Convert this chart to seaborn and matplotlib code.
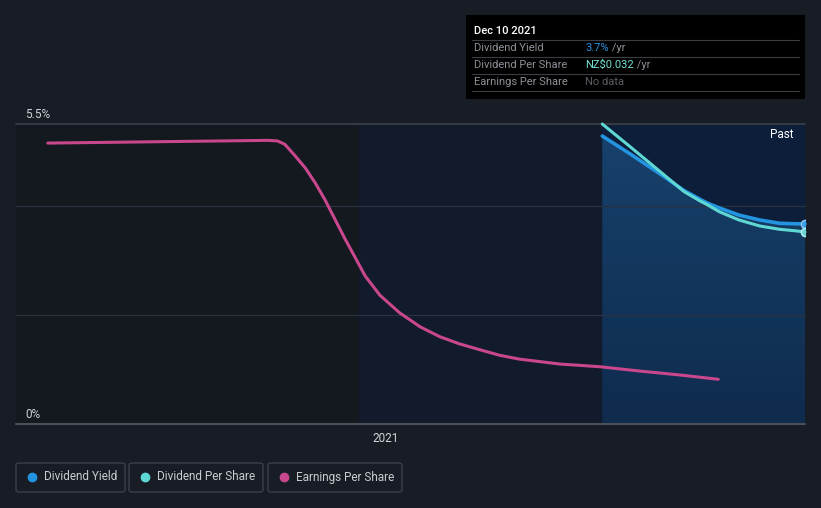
import numpy as np
import pandas as pd
import matplotlib
matplotlib.use("Agg")
import matplotlib.pyplot as plt
import matplotlib.dates as mdates
from matplotlib.patches import FancyBboxPatch, Rectangle
import seaborn as sns

# ---------------- data ----------------
eps_dates = ["2020-03-30", "2020-09-26", "2020-10-04", "2020-10-10", "2020-10-18", "2020-10-27",
             "2020-11-04", "2020-11-12", "2020-11-20", "2020-11-28", "2020-12-07", "2020-12-15",
             "2020-12-27", "2021-01-12", "2021-01-29", "2021-02-14", "2021-03-02", "2021-03-19",
             "2021-04-04", "2021-04-20", "2021-05-23", "2021-06-25", "2021-07-28", "2021-08-29",
             "2021-09-30"]
eps_values = [5.15, 5.20, 5.19, 5.13, 4.93, 4.69, 4.42, 4.11, 3.76, 3.41, 3.04, 2.71, 2.36,
              2.04, 1.78, 1.60, 1.47, 1.36, 1.26, 1.19, 1.10, 1.05, 0.97, 0.90, 0.82]

div_dates = ["2021-06-27", "2021-07-20", "2021-08-17", "2021-09-02", "2021-09-15", "2021-09-21",
             "2021-10-01", "2021-10-17", "2021-11-03", "2021-11-19", "2021-12-03", "2021-12-10"]
yield_values = [5.28, 4.95, 4.53, 4.28, 4.12, 4.05, 3.96, 3.83, 3.74, 3.68, 3.67, 3.67]
dps_values = [5.50, 5.08, 4.56, 4.26, 4.09, 4.02, 3.89, 3.74, 3.63, 3.57, 3.54, 3.52]

y_ticks = [0, 5.5]
y_tick_labels = ["0%", "5.5%"]
grid_values = [2, 4]
x_tick_label = "2021"
series_names = ["Dividend Yield", "Dividend Per Share", "Earnings Per Share"]
series_colors = ["#2394df", "#5fd8d3", "#c9478d"]

x_start, x_end = pd.Timestamp("2020-03-04"), pd.Timestamp("2021-12-10")
past_start = pd.Timestamp("2020-12-10")

# ---------------- figure ----------------
sns.set_style("dark")
plt.rcParams["font.family"] = ["Roboto", "DejaVu Sans"]

W, H = 821, 508
fig = plt.figure(figsize=(W / 100, H / 100), dpi=100, facecolor="#181c25")
ax = fig.add_axes([16 / W, (H - 424) / H, (805 - 16) / W, 300 / H])
ax.set_facecolor("#14181f")

eps = pd.DataFrame({"date": pd.to_datetime(eps_dates), "value": eps_values})
div = pd.DataFrame({"date": pd.to_datetime(div_dates), "yield": yield_values, "dps": dps_values})

# regions
ax.axvspan(past_start, x_end, color="#111b2c", zorder=0, lw=0)
ax.axvspan(div["date"].iloc[0], x_end, color="#0c1e3a", zorder=0, lw=0)

# gradient fill under dividend yield
xd = mdates.date2num(div["date"])
poly = ax.fill_between(div["date"], div["yield"], 0, color="none", lw=0, zorder=1)
grad = np.linspace(0, 1, 256).reshape(-1, 1)
cmap = matplotlib.colors.LinearSegmentedColormap.from_list("g", ["#0f2b4e", "#17416b"])
im = ax.imshow(grad, extent=[xd[0], xd[-1], 0, max(yield_values)], origin="lower",
               aspect="auto", cmap=cmap, zorder=1)
im.set_clip_path(poly.get_paths()[0], transform=ax.transData)
ax.set_xlim(x_start, x_end)
ax.set_ylim(0, 5.5)

# grid lines
for g in grid_values:
    ax.axhline(g, color="#2a3240", lw=0.9, zorder=1.5)
ax.axhline(5.5, color="#3a404b", lw=1.2, zorder=1.5, clip_on=False)
ax.axhline(0, color="#4a4f58", lw=1.5, zorder=1.5, clip_on=False)

# lines
sns.lineplot(data=eps, x="date", y="value", ax=ax, color=series_colors[2], lw=2.2, zorder=3)
sns.lineplot(data=div, x="date", y="yield", ax=ax, color=series_colors[0], lw=2.6, zorder=4)
sns.lineplot(data=div, x="date", y="dps", ax=ax, color=series_colors[1], lw=2.2, zorder=5)
for l in ax.get_lines():
    l.set_clip_on(False)
    l.set_solid_capstyle("round")
    l.set_solid_joinstyle("round")
ax.scatter([div["date"].iloc[-1]], [yield_values[-1]], s=36, color="#3a9fe8",
           edgecolor="#8cc8f0", lw=1, zorder=6)
ax.scatter([div["date"].iloc[-1]], [dps_values[-1]], s=36, color="#6fd6d8",
           edgecolor="#b0f0ee", lw=1, zorder=6)

# axes styling
for s in ax.spines.values():
    s.set_visible(False)
ax.set_xlabel("")
ax.set_ylabel("")
ax.set_yticks([])
ax.set_xticks([pd.Timestamp("2021-01-01")])
ax.set_xticklabels([x_tick_label], color="#d0d3d8", fontsize=8.5)
ax.tick_params(axis="x", length=4, color="#4a4f58", pad=2)
ax.grid(False)

label_pos = [0.06, 5.56]
for v, lab in zip(label_pos, y_tick_labels):
    ax.text(0.012, v, lab, transform=ax.get_yaxis_transform(), color="#d0d3d8",
            fontsize=8.5, va="bottom", ha="left")

ax.text(0.985, 5.3, "Past", transform=ax.get_yaxis_transform(), color="#ffffff",
        fontsize=8.5, ha="right", va="center")

# tooltip box
def fx(px):
    return px / W

def fy(py):
    return (H - py) / H

fig.patches.append(Rectangle((fx(466), fy(99)), (805 - 466) / W, 84 / H,
                             transform=fig.transFigure, facecolor="#000000", edgecolor="none"))
fig.text(fx(474), fy(31), "Dec 10 2021", color="#ffffff", fontsize=8, va="center",
         fontweight="medium")
for yy in [40, 57, 74, 91]:
    fig.add_artist(plt.Line2D([fx(472), fx(799)], [fy(yy), fy(yy)], transform=fig.transFigure,
                              color="#3a3d44", lw=0.8))
rows = [("Dividend Yield", "3.7%", " /yr", series_colors[0]),
        ("Dividend Per Share", "NZ$0.032", " /yr", "#6fe3d3"),
        ("Earnings Per Share", "No data", "", "#5a5d63")]
for i, (lab, val, suf, col) in enumerate(rows):
    yy = fy(48 + 17 * i)
    fig.text(fx(474), yy, lab, color="#8e9197", fontsize=8, va="center")
    t = fig.text(fx(585), yy, val, color=col, fontsize=8, va="center")
    if suf:
        fig.canvas.draw()
        bb = t.get_window_extent()
        fig.text(bb.x1 / W, yy, suf, color="#8e9197", fontsize=8, va="center")

# legend boxes
boxes = [(16, 125), (129, 263), (268, 402)]
for (x0, x1), name, col in zip(boxes, series_names, series_colors):
    fig.patches.append(FancyBboxPatch((fx(x0), fy(492)), (x1 - x0) / W, 29 / H,
                                      boxstyle="round,pad=0,rounding_size=0.004",
                                      transform=fig.transFigure, facecolor="none",
                                      edgecolor="#3a3f49", lw=1))
    fig.add_artist(plt.Line2D([fx(x0 + 16)], [fy(477)], marker="o", markersize=6,
                              color=col, transform=fig.transFigure, lw=0))
    fig.text(fx(x0 + 28), fy(477), name, color="#c9ccd1", fontsize=8.5, va="center")

fig.savefig("out.png", dpi=100, facecolor=fig.get_facecolor())
